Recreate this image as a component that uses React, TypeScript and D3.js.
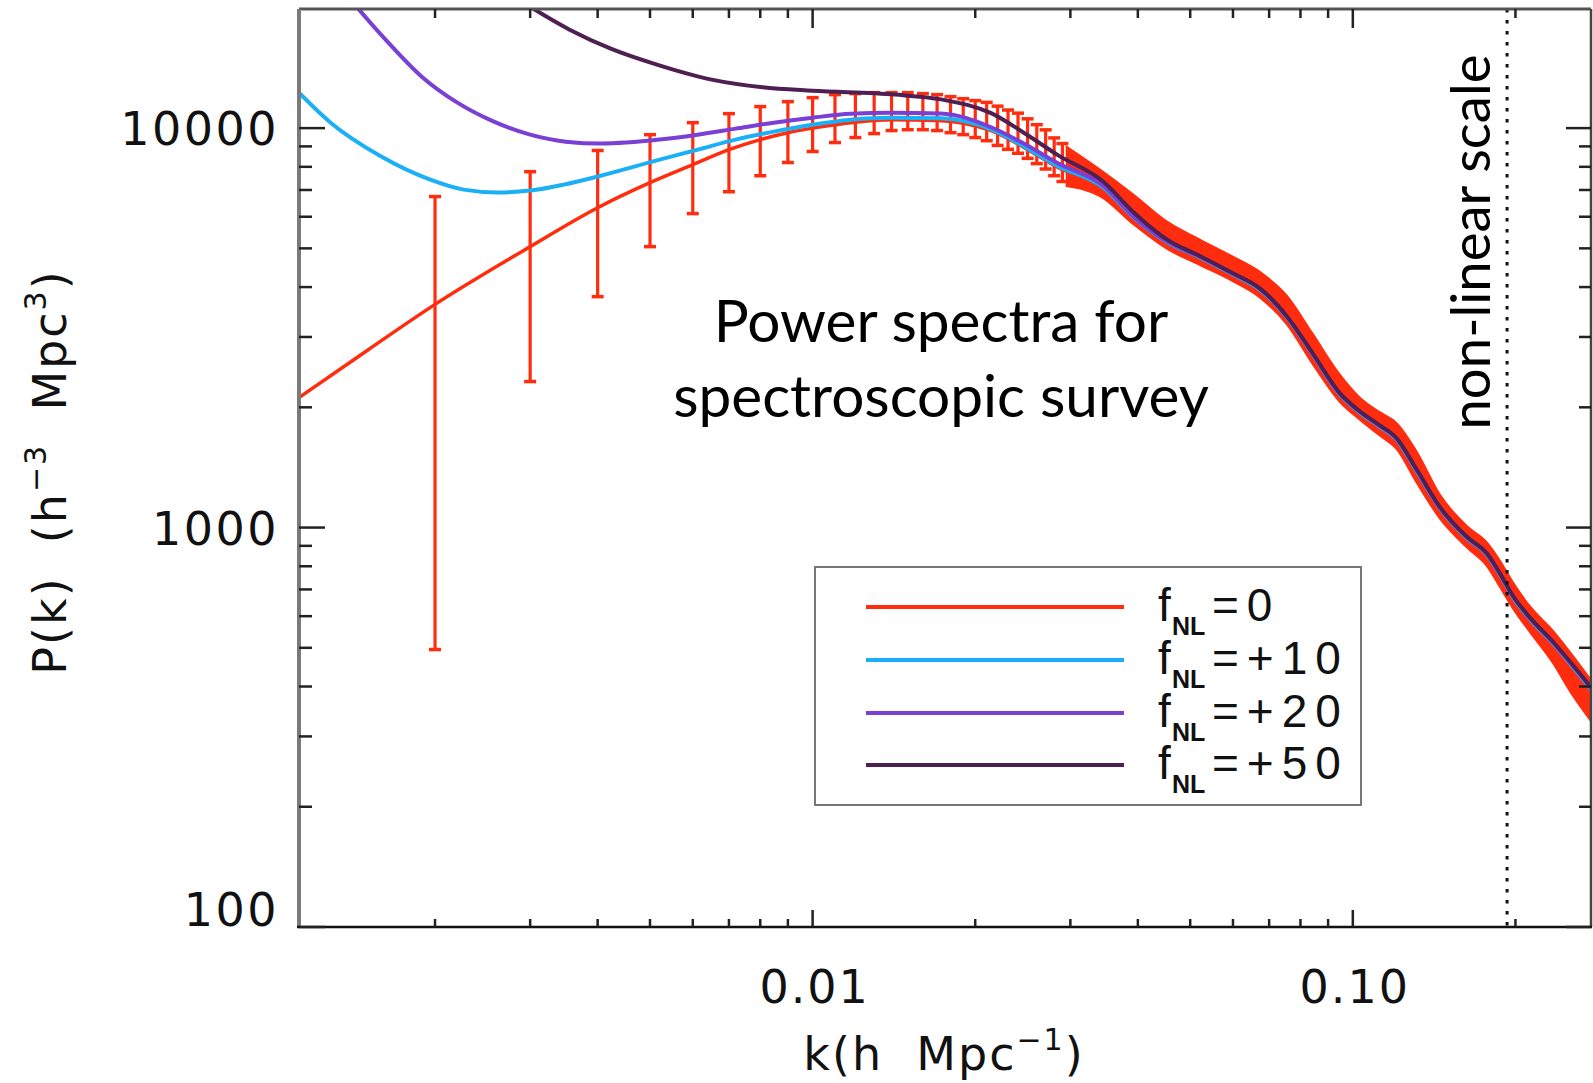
import React from "react";
import * as d3 from "d3";

// ---------- data ----------
const K_DOMAIN: [number, number] = [0.00112, 0.276];
const P_DOMAIN: [number, number] = [100, 19870];

const xTickValuesLabelled = [0.01, 0.1];
const xTickLabels = ["0.01", "0.10"];
const yTickValuesLabelled = [100, 1000, 10000];
const yTickLabels = ["100", "1000", "10000"];

const legendLabels = ["=0", "=+10", "=+20", "=+50"];
const seriesColors = ["#ff2d0e", "#1bb0f5", "#7a3fd4", "#4e1f52"];

// f_NL = 0
const kFnl0 = [0.00112, 0.0015, 0.002, 0.003, 0.004, 0.005, 0.006, 0.007, 0.008, 0.009, 0.010, 0.012, 0.014, 0.017, 0.0214, 0.0246, 0.0284, 0.0345, 0.0393, 0.0454, 0.0522, 0.060, 0.0673, 0.0755, 0.0843, 0.0946, 0.103, 0.112, 0.1205, 0.1314, 0.145, 0.1626, 0.177, 0.187, 0.198, 0.213, 0.234, 0.255, 0.276];
const pFnl0 = [2116, 2780, 3620, 5050, 6320, 7300, 8100, 8830, 9360, 9740, 10000, 10350, 10500, 10450, 9850, 8950, 7980, 7050, 5950, 5150, 4720, 4280, 3920, 3340, 2700, 2140, 1935, 1785, 1655, 1375, 1110, 935, 850, 755, 660, 578, 500, 428, 362];

// f_NL = +10
const kFnl10 = [0.00112, 0.00128, 0.00159, 0.00196, 0.00226, 0.00261, 0.0030, 0.00346, 0.00405, 0.00521, 0.00612, 0.0072, 0.00847, 0.010, 0.01176, 0.01394, 0.01726, 0.0214, 0.0246, 0.0284, 0.0345, 0.0393, 0.0454, 0.0522, 0.060, 0.0673, 0.0755, 0.0843, 0.0946, 0.103, 0.112, 0.1205, 0.1314, 0.145, 0.1626, 0.177, 0.187, 0.198, 0.213, 0.234, 0.255, 0.276];
const pFnl10 = [12260, 10330, 8490, 7430, 7015, 6900, 6975, 7220, 7600, 8340, 8830, 9360, 9800, 10200, 10500, 10620, 10580, 9930, 9000, 8040, 7100, 5970, 5170, 4740, 4300, 3940, 3355, 2710, 2150, 1940, 1790, 1660, 1380, 1115, 940, 855, 763, 668, 588, 515, 449, 393];

// f_NL = +20
const kFnl20 = [0.00141, 0.00162, 0.00189, 0.0022, 0.00257, 0.0030, 0.00349, 0.00405, 0.00521, 0.00612, 0.0072, 0.00847, 0.010, 0.01176, 0.01394, 0.01726, 0.0214, 0.0246, 0.0284, 0.0345, 0.0393, 0.0454, 0.0522, 0.060, 0.0673, 0.0755, 0.0843, 0.0946, 0.103, 0.112, 0.1205, 0.1314, 0.145, 0.1626, 0.177, 0.187, 0.198, 0.213, 0.234, 0.255, 0.276];
const pFnl20 = [20600, 16650, 13450, 11580, 10380, 9630, 9250, 9150, 9360, 9630, 9970, 10320, 10620, 10860, 10920, 10880, 10050, 9150, 8180, 7180, 6000, 5190, 4760, 4320, 3960, 3370, 2720, 2160, 1950, 1800, 1670, 1390, 1120, 945, 860, 768, 672, 592, 518, 452, 396];

// f_NL = +50
const kFnl50 = [0.0029, 0.00355, 0.00423, 0.00508, 0.0065, 0.00808, 0.010, 0.0142, 0.0173, 0.0214, 0.0246, 0.0284, 0.0345, 0.0393, 0.0454, 0.0522, 0.060, 0.0673, 0.0755, 0.0843, 0.0946, 0.103, 0.112, 0.1205, 0.1314, 0.145, 0.1626, 0.177, 0.187, 0.198, 0.213, 0.234, 0.255, 0.276];
const pFnl50 = [20700, 17640, 15810, 14500, 13225, 12650, 12400, 12130, 11800, 10900, 9740, 8570, 7350, 6150, 5250, 4780, 4330, 3970, 3380, 2730, 2170, 1955, 1805, 1675, 1395, 1125, 948, 862, 770, 674, 594, 520, 454, 398];

// individual error bars on f_NL = 0
const errK = [0.002, 0.003, 0.004, 0.005, 0.006, 0.007, 0.008, 0.009, 0.010, 0.011, 0.012, 0.013, 0.014, 0.015, 0.016, 0.017, 0.018, 0.019, 0.020, 0.021, 0.022, 0.023, 0.024, 0.025, 0.026, 0.027, 0.028, 0.029];
const errLo = [495, 2320, 3785, 5050, 6110, 6930, 7600, 8200, 8740, 9200, 9470, 9690, 9860, 9910, 9910, 9860, 9740, 9630, 9470, 9300, 9050, 8850, 8650, 8400, 8150, 7900, 7600, 7350];
const errHi = [6740, 7780, 8790, 9630, 10320, 10870, 11320, 11650, 11920, 12130, 12200, 12270, 12270, 12270, 12200, 12130, 11990, 11850, 11720, 11600, 11350, 11100, 10900, 10550, 10200, 9900, 9450, 9150];

// dense error bars merge into a band at higher k
const bandK = [0.0295, 0.0341, 0.0393, 0.0454, 0.0522, 0.060, 0.0673, 0.0755, 0.0843, 0.0946, 0.103, 0.112, 0.1205, 0.1314, 0.145, 0.1626, 0.177, 0.187, 0.198, 0.213, 0.234, 0.255, 0.276];
const bandLo = [7150, 6740, 5730, 4970, 4530, 4130, 3760, 3220, 2560, 2060, 1860, 1700, 1570, 1290, 1050, 890, 800, 710, 625, 545, 460, 380, 327];
const bandHi = [9000, 7870, 6820, 5830, 5260, 4770, 4370, 3810, 3060, 2420, 2120, 1950, 1830, 1550, 1210, 1010, 920, 830, 730, 635, 555, 480, 416];

const nonLinearK = 0.193;

// ---------- layout ----------
const W = 1593;
const H = 1083;
const PL = 299, PR = 1591, PT = 9, PB = 927;

const axisFont = "'DejaVu Sans', Verdana, sans-serif";
const legendFont = "'Liberation Sans', Arial, Helvetica, sans-serif";
const annFont = "Lato, 'Open Sans', sans-serif";

export default function App() {
  const x = d3.scaleLog().domain(K_DOMAIN).range([PL, PR]);
  const y = d3.scaleLog().domain(P_DOMAIN).range([PB, PT]);

  const line = d3
    .line<number[]>()
    .x((d) => x(d[0]))
    .y((d) => y(d[1]))
    .curve(d3.curveMonotoneX);
  const area = d3
    .area<number[]>()
    .x((d) => x(d[0]))
    .y0((d) => y(d[1]))
    .y1((d) => y(d[2]))
    .curve(d3.curveMonotoneX);

  const zip = (ks: number[], ps: number[]) => ks.map((k, i) => [k, ps[i]]);
  const series = [
    zip(kFnl0, pFnl0),
    zip(kFnl10, pFnl10),
    zip(kFnl20, pFnl20),
    zip(kFnl50, pFnl50),
  ];
  const band = bandK.map((k, i) => [k, bandLo[i], bandHi[i]]);

  const isMajor = (v: number) =>
    Math.abs(Math.log10(v) - Math.round(Math.log10(v))) < 1e-6;
  const xTicks = x.ticks();
  const yTicks = y.ticks();

  const tickColor = "#222";
  const legendRows = [607, 660, 713, 765];

  return (
    <svg
      width={W}
      height={H}
      viewBox={`0 0 ${W} ${H}`}
      style={{ position: "absolute", left: 0, top: 0, background: "#fff" }}
    >
      <defs>
        <clipPath id="plotClip">
          <rect x={PL} y={PT} width={PR - PL} height={PB - PT} />
        </clipPath>
      </defs>
      <rect x={0} y={0} width={W} height={H} fill="#fff" />

      {/* data */}
      <g clipPath="url(#plotClip)">
        <path d={area(band) || ""} fill={seriesColors[0]} stroke={seriesColors[0]} strokeWidth={1.5} />
        {errK.map((k, i) => {
          const cx = x(k);
          return (
            <g key={i} stroke={seriesColors[0]} strokeWidth={3.2}>
              <line x1={cx} x2={cx} y1={y(errLo[i])} y2={y(errHi[i])} />
              <line x1={cx - 6} x2={cx + 6} y1={y(errLo[i])} y2={y(errLo[i])} strokeWidth={3.5} />
              <line x1={cx - 6} x2={cx + 6} y1={y(errHi[i])} y2={y(errHi[i])} strokeWidth={3.5} />
            </g>
          );
        })}
        {series.map((s, i) => (
          <path
            key={i}
            d={line(s) || ""}
            fill="none"
            stroke={seriesColors[i]}
            strokeWidth={i === 0 ? 3.5 : 4}
            strokeLinejoin="round"
          />
        ))}
        {/* non-linear scale marker */}
        <line
          x1={x(nonLinearK)}
          x2={x(nonLinearK)}
          y1={PT}
          y2={PB}
          stroke="#111"
          strokeWidth={3}
          strokeDasharray="3.5 7.5"
        />
      </g>

      {/* frame */}
      <line x1={PL} x2={PR} y1={PT} y2={PT} stroke="#555" strokeWidth={3} />
      <line x1={PR} x2={PR} y1={PT} y2={PB} stroke="#444" strokeWidth={2.5} />
      <line x1={PL} x2={PL} y1={PT} y2={PB} stroke="#7a7a7a" strokeWidth={4} />
      <line x1={PL - 2} x2={PR + 1} y1={PB} y2={PB} stroke="#111" strokeWidth={2.5} />

      {/* x ticks (bottom + top) */}
      {xTicks.map((t, i) => {
        const tx = x(t);
        const maj = isMajor(t);
        return (
          <g key={"xt" + i} stroke={tickColor} strokeWidth={2.5}>
            <line x1={tx} x2={tx} y1={PB} y2={PB - (maj ? 17 : 8)} />
            <line x1={tx} x2={tx} y1={PT} y2={PT + (maj ? 19 : 9)} />
          </g>
        );
      })}
      {/* y ticks (left + right) */}
      {yTicks.map((t, i) => {
        const ty = y(t);
        const maj = isMajor(t);
        return (
          <g key={"yt" + i} stroke={tickColor} strokeWidth={2.5}>
            <line x1={PL} x2={PL + (maj ? 26 : 13)} y1={ty} y2={ty} />
            <line x1={PR} x2={PR - (maj ? 25 : 12)} y1={ty} y2={ty} />
          </g>
        );
      })}

      {/* tick labels */}
      {xTickValuesLabelled.map((t, i) => (
        <text
          key={"xl" + i}
          x={x(t) + 2}
          y={1003}
          textAnchor="middle"
          fontFamily={axisFont}
          fontSize={46}
          letterSpacing={2}
          fill="#111"
        >
          {xTickLabels[i]}
        </text>
      ))}
      {yTickValuesLabelled.map((t, i) => (
        <text
          key={"yl" + i}
          x={279}
          y={y(t) + (i === 0 ? -1 : 17)}
          textAnchor="end"
          fontFamily={axisFont}
          fontSize={46}
          letterSpacing={2.5}
          fill="#111"
        >
          {yTickLabels[i]}
        </text>
      ))}

      {/* axis titles */}
      <text
        x={944}
        y={1070}
        textAnchor="middle"
        fontFamily={axisFont}
        fontSize={46}
        letterSpacing={2}
        fill="#111"
        style={{ whiteSpace: "pre" }}
      >
        <tspan>{"k(h  Mpc"}</tspan>
        <tspan fontSize={30} dy={-20}>{"\u22121"}</tspan>
        <tspan dy={20}>{")"}</tspan>
      </text>
      <text
        transform="translate(66,472) rotate(-90)"
        textAnchor="middle"
        fontFamily={axisFont}
        fontSize={46}
        letterSpacing={2}
        fill="#111"
        style={{ whiteSpace: "pre" }}
      >
        <tspan>{"P(k)  (h"}</tspan>
        <tspan fontSize={30} dy={-20}>{"\u22123"}</tspan>
        <tspan dy={20}>{"  Mpc"}</tspan>
        <tspan fontSize={30} dy={-20}>{"3"}</tspan>
        <tspan dy={20}>{")"}</tspan>
      </text>

      {/* annotations */}
      <text x={941} y={342} textAnchor="middle" fontFamily={annFont} fontSize={58.5} fill="#000">
        Power spectra for
      </text>
      <text x={941} y={417} textAnchor="middle" fontFamily={annFont} fontSize={58.5} fill="#000">
        spectroscopic survey
      </text>
      <text
        transform="translate(1490,242) rotate(-90)"
        textAnchor="middle"
        fontFamily={annFont}
        fontSize={54.5}
        fill="#000"
      >
        non-linear scale
      </text>

      {/* legend */}
      <rect x={815} y={567} width={546} height={238} fill="#fff" stroke="#777" strokeWidth={2} />
      {legendLabels.map((lab, i) => (
        <g key={"lg" + i}>
          <line x1={866} x2={1124} y1={legendRows[i]} y2={legendRows[i]} stroke={seriesColors[i]} strokeWidth={4} />
          <text fontFamily={legendFont} fill="#111" fontSize={46}>
            <tspan x={1158} y={legendRows[i] + 14}>f</tspan>
            <tspan x={1172} y={legendRows[i] + 28} fontSize={25} fontWeight="bold">NL</tspan>
            <tspan x={1212} y={legendRows[i] + 14} letterSpacing={8}>{lab}</tspan>
          </text>
        </g>
      ))}
    </svg>
  );
}
